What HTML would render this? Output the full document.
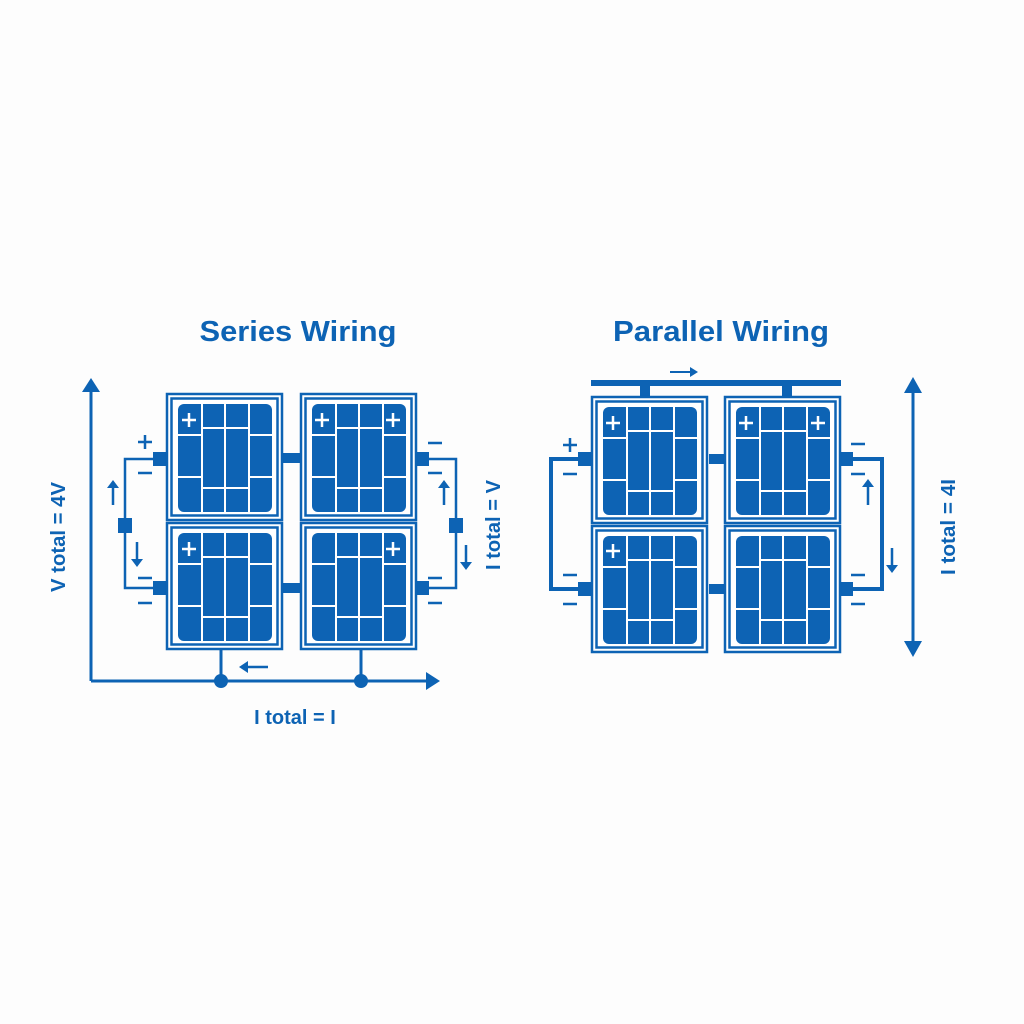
<!DOCTYPE html>
<html><head><meta charset="utf-8"><style>
html,body{margin:0;padding:0;background:#fdfdfd;}
svg{display:block;}
text{font-family:"Liberation Sans",sans-serif;font-weight:bold;fill:#0d63b4;}
</style></head><body>
<svg width="1024" height="1024" viewBox="0 0 1024 1024" xmlns="http://www.w3.org/2000/svg">
<defs>
<g id="p">
<rect x="1" y="1" width="115" height="126" fill="#fff" stroke="#0d63b4" stroke-width="2.5"/>
<rect x="5.5" y="5.5" width="106" height="117" fill="none" stroke="#0d63b4" stroke-width="2.5"/>
<rect x="12" y="11" width="94" height="108" rx="6" fill="#0d63b4"/>
<g stroke="#fff" stroke-width="2">
<line x1="36" y1="11" x2="36" y2="119"/><line x1="59" y1="11" x2="59" y2="119"/><line x1="83" y1="11" x2="83" y2="119"/>
<line x1="12" y1="42" x2="36" y2="42"/><line x1="12" y1="84" x2="36" y2="84"/>
<line x1="83" y1="42" x2="106" y2="42"/><line x1="83" y1="84" x2="106" y2="84"/>
<line x1="36" y1="35" x2="83" y2="35"/><line x1="36" y1="95" x2="83" y2="95"/>
</g>
</g>
<g id="pl"><path d="M-7 0H7M0 -7V7" stroke="#fff" stroke-width="2.5"/></g>
</defs>

<text x="298" y="341" font-size="29" text-anchor="middle" textLength="197" lengthAdjust="spacingAndGlyphs">Series Wiring</text>
<text x="721" y="341" font-size="29" text-anchor="middle" textLength="216" lengthAdjust="spacingAndGlyphs">Parallel Wiring</text>

<!-- Series -->
<g fill="none" stroke="#0d63b4">
<path d="M91 681V390" stroke-width="3"/>
<path d="M91 681H428" stroke-width="3"/>
<path d="M221 650V681M361 650V681" stroke-width="3"/>
<path d="M153 459H125V588H153" stroke-width="2.5"/>
<path d="M428 459H456V588H428" stroke-width="2.5"/>
<path d="M283 458H300M283 588H300" stroke-width="10"/>
<path d="M268 667H242" stroke-width="2.5"/>
<path d="M113 505V485M137 542V562M444 505V485M466 545V565" stroke-width="2.5"/>
</g>
<g fill="#0d63b4">
<path d="M82 392L91 378L100 392Z"/>
<path d="M426 672L440 681L426 690Z"/>
<circle cx="221" cy="681" r="7"/><circle cx="361" cy="681" r="7"/>
<path d="M248 661L239 667L248 673Z"/>
<path d="M107 488L113 480L119 488Z"/><path d="M131 559L137 567L143 559Z"/>
<path d="M438 488L444 480L450 488Z"/><path d="M460 562L466 570L472 562Z"/>
<rect x="153" y="452" width="13" height="14"/><rect x="153" y="581" width="13" height="14"/>
<rect x="417" y="452" width="12" height="14"/><rect x="417" y="581" width="12" height="14"/>
<rect x="118" y="518" width="14" height="15"/><rect x="449" y="518" width="14" height="15"/>
</g>
<g stroke="#0d63b4" stroke-width="2.5">
<path d="M138 442H152M145 435V449"/>
<path d="M138 473H152M138 578H152M138 603H152"/>
<path d="M428 443H442M428 473H442M428 578H442M428 603H442"/>
</g>
<use href="#p" x="166" y="393"/><use href="#p" x="300" y="393"/>
<use href="#p" x="166" y="522"/><use href="#p" x="300" y="522"/>
<use href="#pl" x="189" y="420"/><use href="#pl" x="322" y="420"/><use href="#pl" x="393" y="420"/>
<use href="#pl" x="189" y="549"/><use href="#pl" x="393" y="549"/>

<text x="295" y="724" font-size="20" text-anchor="middle">I total = I</text>
<text transform="translate(65 537) rotate(-90)" font-size="20" text-anchor="middle" textLength="110" lengthAdjust="spacingAndGlyphs">V total = 4V</text>
<text transform="translate(500 525) rotate(-90)" font-size="20" text-anchor="middle" textLength="90" lengthAdjust="spacingAndGlyphs">I total = V</text>

<!-- Parallel -->
<g fill="none" stroke="#0d63b4">
<path d="M591 383H841" stroke-width="6"/>
<path d="M645 383V397M787 383V397" stroke-width="10"/>
<path d="M670 372H692" stroke-width="2"/>
<path d="M579 459H551V589H579" stroke-width="4"/>
<path d="M852 459H882V589H852" stroke-width="4"/>
<path d="M709 459H724M709 589H724" stroke-width="10"/>
<path d="M868 505V484M892 548V568" stroke-width="2.5"/>
<path d="M913 390V645" stroke-width="3"/>
</g>
<g fill="#0d63b4">
<path d="M690 367L698 372L690 377Z"/>
<rect x="578" y="452" width="14" height="14"/><rect x="578" y="582" width="14" height="14"/>
<rect x="839" y="452" width="14" height="14"/><rect x="839" y="582" width="14" height="14"/>
<path d="M862 487L868 479L874 487Z"/><path d="M886 565L892 573L898 565Z"/>
<path d="M904 393L913 377L922 393Z"/><path d="M904 641L913 657L922 641Z"/>
</g>
<g stroke="#0d63b4" stroke-width="2.5">
<path d="M563 445H577M570 438V452"/>
<path d="M563 474H577M563 575H577M563 604H577"/>
<path d="M851 444H865M851 474H865M851 575H865M851 604H865"/>
</g>
<use href="#p" x="591" y="396"/><use href="#p" x="724" y="396"/>
<use href="#p" x="591" y="525"/><use href="#p" x="724" y="525"/>
<use href="#pl" x="613" y="423"/><use href="#pl" x="746" y="423"/><use href="#pl" x="818" y="423"/>
<use href="#pl" x="613" y="551"/>
<text transform="translate(955 527) rotate(-90)" font-size="20" text-anchor="middle" textLength="96" lengthAdjust="spacingAndGlyphs">I total = 4I</text>
</svg>
</body></html>
